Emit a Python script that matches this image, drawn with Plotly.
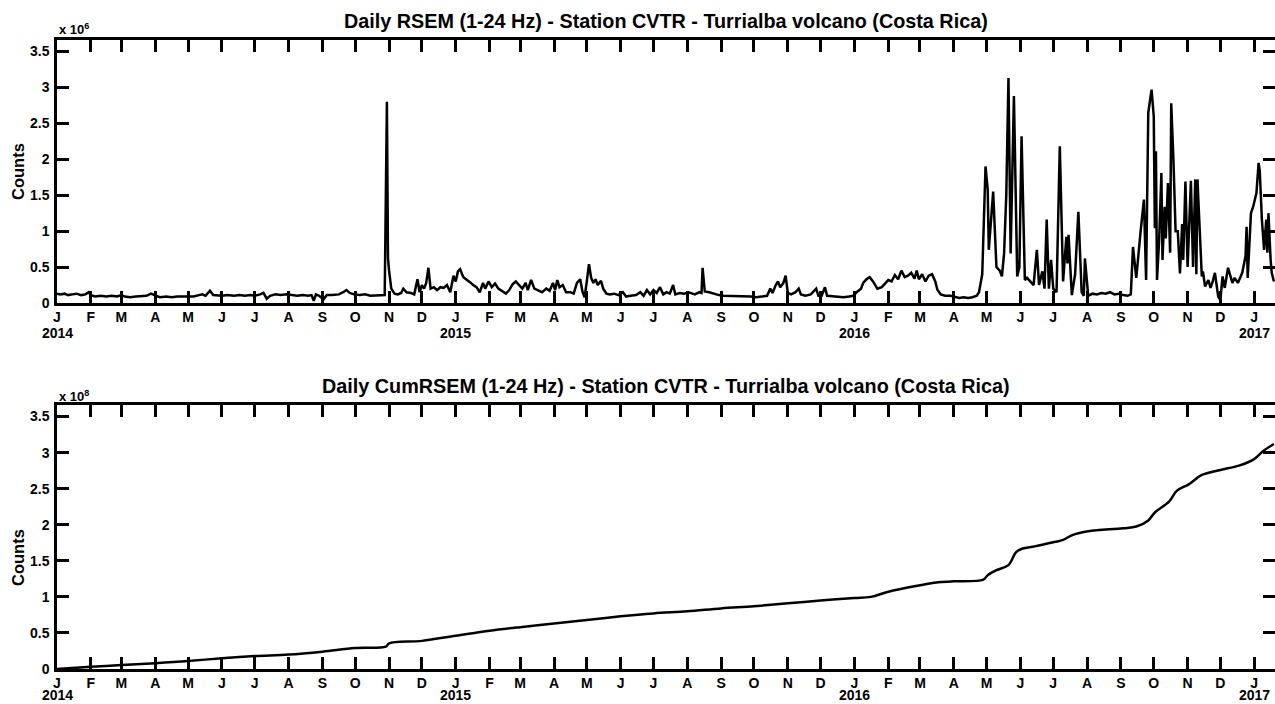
import pandas as pd
import plotly.graph_objects as go

# ---------------- data ----------------
# days since 2014-01-01 and daily RSEM (x 10^6 counts)
rsem_day = [0, 3, 7, 10, 14, 18, 22, 26, 29, 31, 35, 40, 45, 50, 55, 59, 62, 67, 72, 77,
            82, 86, 90, 94, 100, 105, 110, 115, 120, 125, 130, 133, 136, 140, 143, 147, 151, 156, 162, 167,
            172, 177, 181, 186, 189, 192, 195, 200, 205, 210, 215, 220, 225, 230, 233, 235, 237, 240, 244, 247,
            252, 258, 262, 265, 268, 272, 277, 282, 287, 292, 297, 300, 302, 303, 304, 306, 309, 312, 315, 317,
            320, 324, 327, 330, 332, 334, 336, 338, 340, 342, 345, 348, 351, 354, 357, 360, 363, 365, 367, 369,
            372, 375, 378, 381, 384, 387, 390, 392, 395, 398, 401, 404, 408, 411, 414, 417, 420, 423, 426, 429,
            431, 434, 437, 440, 444, 448, 451, 454, 456, 458, 460, 463, 466, 470, 473, 476, 479, 481, 483, 485,
            487, 489, 491, 493, 495, 498, 500, 503, 506, 510, 514, 518, 521, 525, 530, 534, 537, 540, 543, 546,
            549, 552, 555, 558, 561, 564, 566, 570, 574, 578, 581, 584, 588, 590, 591, 593, 597, 601, 606, 610,
            615, 620, 625, 630, 635, 640, 645, 650, 653, 655, 658, 660, 662, 665, 667, 669, 672, 676, 679, 681,
            685, 690, 695, 697, 700, 703, 705, 710, 715, 720, 725, 729, 732, 736, 738, 741, 744, 747, 751, 755,
            758, 761, 764, 767, 770, 773, 776, 779, 782, 785, 787, 789, 792, 795, 798, 801, 804, 806, 809, 813,
            818, 822, 826, 830, 834, 838, 842, 844, 847, 850, 852, 853, 857, 860, 863, 865, 867, 869, 871, 873,
            874, 876, 879, 881, 883, 886, 888, 891, 894, 897, 899, 902, 904, 906, 908, 910, 912, 915, 918, 921,
            924, 925, 926, 929, 932, 935, 938, 940, 941, 944, 948, 952, 956, 960, 964, 968, 972, 976, 980, 983,
            985, 988, 990, 992, 995, 997, 999, 1002, 1004, 1005, 1006, 1007, 1009, 1011, 1012, 1014, 1015, 1017, 1019, 1020,
            1022, 1024, 1026, 1028, 1030, 1031, 1033, 1035, 1038, 1040, 1042, 1043, 1044, 1048, 1049, 1051, 1054, 1056, 1058, 1060,
            1063, 1065, 1067, 1069, 1072, 1076, 1078, 1081, 1085, 1088, 1089, 1090, 1093, 1095, 1098, 1100, 1101, 1103, 1105, 1107,
            1108, 1109, 1111, 1112, 1114]
rsem_val = [0.13, 0.12, 0.13, 0.11, 0.12, 0.13, 0.11, 0.12, 0.15, 0.11, 0.09, 0.10, 0.09, 0.10, 0.09, 0.11, 0.09, 0.08, 0.09, 0.09,
            0.10, 0.13, 0.10, 0.08, 0.09, 0.08, 0.09, 0.09, 0.10, 0.09, 0.11, 0.12, 0.10, 0.17, 0.11, 0.10, 0.10, 0.11, 0.10, 0.11,
            0.10, 0.11, 0.10, 0.12, 0.14, 0.06, 0.10, 0.12, 0.11, 0.12, 0.11, 0.10, 0.11, 0.10, 0.11, 0.03, 0.12, 0.10, 0.05, 0.11,
            0.11, 0.12, 0.15, 0.18, 0.14, 0.12, 0.11, 0.12, 0.10, 0.10, 0.10, 0.11, 2.80, 0.62, 0.45, 0.20, 0.13, 0.12, 0.14, 0.20,
            0.15, 0.14, 0.12, 0.33, 0.15, 0.25, 0.20, 0.28, 0.49, 0.20, 0.22, 0.18, 0.22, 0.21, 0.25, 0.15, 0.38, 0.30, 0.44, 0.47,
            0.36, 0.33, 0.29, 0.25, 0.22, 0.15, 0.28, 0.20, 0.30, 0.22, 0.27, 0.20, 0.16, 0.13, 0.18, 0.26, 0.30, 0.25, 0.20, 0.28,
            0.18, 0.32, 0.20, 0.18, 0.15, 0.20, 0.17, 0.28, 0.18, 0.32, 0.22, 0.25, 0.15, 0.15, 0.13, 0.28, 0.33, 0.16, 0.08, 0.30,
            0.54, 0.35, 0.28, 0.33, 0.25, 0.31, 0.20, 0.13, 0.12, 0.13, 0.11, 0.15, 0.09, 0.10, 0.11, 0.15, 0.10, 0.18, 0.12, 0.18,
            0.14, 0.22, 0.12, 0.15, 0.13, 0.25, 0.12, 0.14, 0.13, 0.15, 0.13, 0.12, 0.15, 0.14, 0.49, 0.16, 0.15, 0.13, 0.11, 0.10,
            0.10, 0.09, 0.10, 0.10, 0.09, 0.08, 0.09, 0.10, 0.20, 0.14, 0.25, 0.30, 0.22, 0.28, 0.38, 0.14, 0.12, 0.15, 0.20, 0.12,
            0.10, 0.12, 0.20, 0.10, 0.10, 0.22, 0.10, 0.09, 0.08, 0.08, 0.09, 0.10, 0.15, 0.20, 0.28, 0.33, 0.36, 0.30, 0.20, 0.22,
            0.27, 0.32, 0.30, 0.39, 0.33, 0.45, 0.36, 0.38, 0.42, 0.34, 0.45, 0.33, 0.40, 0.30, 0.38, 0.40, 0.30, 0.18, 0.12, 0.10,
            0.10, 0.09, 0.07, 0.08, 0.07, 0.08, 0.10, 0.15, 0.40, 1.90, 1.58, 0.74, 1.55, 0.50, 0.45, 0.37, 0.69, 1.50, 3.13, 0.69,
            1.50, 2.88, 0.37, 0.50, 2.32, 0.32, 0.35, 0.30, 0.25, 0.74, 0.25, 0.44, 0.20, 1.16, 0.20, 0.60, 0.20, 0.15, 2.18, 0.30,
            0.92, 0.55, 0.95, 0.11, 0.40, 1.27, 0.15, 0.10, 0.62, 0.10, 0.13, 0.12, 0.14, 0.13, 0.15, 0.12, 0.13, 0.11, 0.10, 0.12,
            0.78, 0.35, 0.70, 1.00, 1.44, 0.32, 2.65, 2.97, 2.60, 1.04, 2.11, 0.32, 0.90, 1.81, 0.60, 1.34, 0.90, 1.67, 0.70, 2.78,
            2.00, 1.00, 1.00, 0.41, 1.10, 0.60, 1.69, 0.50, 1.70, 0.50, 1.72, 0.40, 1.72, 0.37, 0.44, 0.23, 0.32, 0.21, 0.30, 0.42,
            0.09, 0.04, 0.37, 0.21, 0.49, 0.28, 0.35, 0.28, 0.42, 0.65, 1.06, 0.35, 1.25, 1.34, 1.53, 1.95, 1.85, 1.16, 0.74, 1.16,
            0.70, 1.25, 0.60, 0.42, 0.30]

# days since 2014-01-01 and cumulative RSEM (x 10^8 counts)
cum_day = [0, 31, 59, 90, 120, 151, 181, 212, 243, 273, 301, 304, 334, 365, 396, 424, 455, 485, 516, 546,
           577, 608, 638, 669, 699, 730, 745, 761, 790, 805, 821, 848, 852, 860, 871, 878, 884, 895, 913, 921,
           930, 944, 976, 988, 999, 1005, 1018, 1025, 1036, 1048, 1065, 1082, 1096, 1104, 1114]
cum_val = [0.00, 0.03, 0.055, 0.08, 0.11, 0.15, 0.18, 0.20, 0.24, 0.29, 0.31, 0.355, 0.39, 0.46, 0.53, 0.58, 0.63, 0.68, 0.73, 0.77,
           0.80, 0.84, 0.87, 0.91, 0.95, 0.985, 1.00, 1.07, 1.16, 1.20, 1.215, 1.24, 1.30, 1.37, 1.44, 1.62, 1.67, 1.70, 1.76, 1.79,
           1.86, 1.91, 1.95, 1.975, 2.06, 2.17, 2.32, 2.47, 2.56, 2.69, 2.76, 2.82, 2.91, 3.02, 3.12]

month_letters = ["J", "F", "M", "A", "M", "J", "J", "A", "S", "O", "N", "D"]
years = [2014, 2015, 2016, 2017]
y_tick_vals = [0, 0.5, 1, 1.5, 2, 2.5, 3, 3.5]
y_tick_text = ["0", "0.5", "1", "1.5", "2", "2.5", "3", "3.5"]

title_top = "Daily RSEM (1-24 Hz) - Station CVTR - Turrialba volcano (Costa Rica)"
title_bot = "Daily CumRSEM (1-24 Hz) - Station CVTR - Turrialba volcano (Costa Rica)"

# ---------------- build ----------------
start = pd.Timestamp("2014-01-01")
rsem_x = start + pd.to_timedelta(rsem_day, unit="D")
cum_x = start + pd.to_timedelta(cum_day, unit="D")

month_ticks = pd.date_range("2014-01-01", "2017-01-01", freq="MS")
month_text = [month_letters[d.month - 1] for d in month_ticks]

FONT = "Liberation Sans, Arial, sans-serif"
W, H = 1275, 704
L = 57

fig = go.Figure()
fig.add_trace(go.Scatter(x=rsem_x, y=rsem_val, mode="lines",
                         line=dict(color="black", width=2.5), xaxis="x", yaxis="y"))
fig.add_trace(go.Scatter(x=cum_x, y=cum_val, mode="lines", line_shape="spline",
                         line=dict(color="black", width=2.5), xaxis="x2", yaxis="y2"))

def py(px):
    return 1 - px / H

xcommon = dict(range=[start, pd.Timestamp("2017-01-20")], tickvals=month_ticks, ticktext=month_text,
               ticks="inside", ticklen=12, tickwidth=2.5, tickcolor="black",
               showline=True, linewidth=2.5, linecolor="black", mirror="ticks",
               showgrid=False, zeroline=False, ticklabelstandoff=-1, automargin=False,
               tickfont=dict(family=FONT, size=14, color="black", weight="bold"))
ycommon = dict(range=[0, 3.66], tickvals=y_tick_vals, ticktext=y_tick_text,
               ticks="inside", ticklen=12, tickwidth=2.5, tickcolor="black",
               showline=True, linewidth=2.5, linecolor="black", mirror="ticks",
               showgrid=False, zeroline=False, ticklabelstandoff=2, automargin=False,
               tickfont=dict(family=FONT, size=14, color="black", weight="bold"))

fig.update_layout(
    width=W, height=H, margin=dict(l=L, r=0, t=0, b=0, autoexpand=False),
    paper_bgcolor="white", plot_bgcolor="white", showlegend=False,
    xaxis=dict(domain=[0, 1], anchor="y", **xcommon),
    yaxis=dict(domain=[py(303), py(40)], anchor="x", **ycommon),
    xaxis2=dict(domain=[0, 1], anchor="y2", **xcommon),
    yaxis2=dict(domain=[py(669), py(405)], anchor="x2", **ycommon),
)

def xp(px):
    return (px - L) / (W - L)

# year labels under January ticks
for xref, ypix in [("x", 333), ("x2", 694.5)]:
    for yr in years:
        fig.add_annotation(text=str(yr), x=pd.Timestamp(f"{yr}-01-01"), y=py(ypix),
                           xref=xref, yref="paper", showarrow=False, borderpad=0,
                           xanchor="center", yanchor="middle",
                           font=dict(family=FONT, size=14, color="black", weight="bold"))

for txt, yy in [(title_top, 21), (title_bot, 386)]:
    fig.add_annotation(text=txt, x=0.5, y=py(yy), xref="paper", yref="paper",
                       showarrow=False, xanchor="center", yanchor="middle",
                       font=dict(family=FONT, size=19.8, color="black", weight="bold"))
for txt, yy in [("x 10<sup>6</sup>", 29), ("x 10<sup>8</sup>", 396)]:
    fig.add_annotation(text=txt, x=xp(57), y=py(yy), xref="paper", yref="paper",
                       showarrow=False, xanchor="left", yanchor="middle",
                       font=dict(family=FONT, size=13, color="black", weight="bold"))
for yy in [172, 558]:
    fig.add_annotation(text="Counts", x=xp(18), y=py(yy), xref="paper", yref="paper",
                       showarrow=False, xanchor="center", yanchor="middle", textangle=-90,
                       font=dict(family=FONT, size=16.5, color="black", weight="bold"))

fig.write_html("out.html", config={"displayModeBar": False},
               post_script="document.body.style.margin='0';document.body.style.overflow='hidden';")
